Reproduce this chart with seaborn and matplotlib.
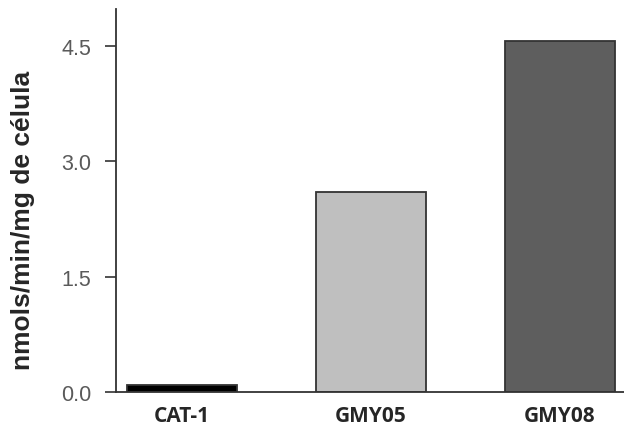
import pandas as pd
import matplotlib.pyplot as plt
import seaborn as sns

# dados
cepas = ['CAT-1', 'GMY05', 'GMY08']
valores = [0.09, 2.60, 4.56]
cores = ['#000000', '#bfbfbf', '#5e5e5e']
yticks = [0.0, 1.5, 3.0, 4.5]

df = pd.DataFrame({'cepa': cepas, 'valor': valores})

sns.set_style('white')
plt.rcParams['font.family'] = ['Liberation Sans', 'DejaVu Sans']

fig = plt.figure(figsize=(6.24, 4.31), dpi=100)
ax = fig.add_axes([0.186, 0.088, 0.814, 0.889])

sns.barplot(data=df, x='cepa', y='valor', hue='cepa', palette=dict(zip(cepas, cores)),
            legend=False, width=0.58, edgecolor='#333333', linewidth=1.3, ax=ax)

ax.set_ylim(0, 4.98)
ax.set_xlim(-0.35, 2.34)
ax.set_yticks(yticks)
ax.set_yticklabels([f'{v:.1f}' for v in yticks], color='#5a5a5a', fontsize=15.5)
ax.tick_params(axis='y', direction='out', length=8, width=1.2, color='#333333', left=True, pad=10)
ax.tick_params(axis='x', length=0, pad=9)
for lab in ax.get_xticklabels():
    lab.set_fontfamily(['Open Sans', 'DejaVu Sans'])
    lab.set_fontweight('bold')
    lab.set_fontsize(15)

ax.set_xlabel('')
ax.set_ylabel('nmols/min/mg de célula', fontsize=19, fontweight='bold')
ax.yaxis.set_label_coords(-0.16, 0.45)

sns.despine(ax=ax, top=True, right=True)
for s in ['left', 'bottom']:
    ax.spines[s].set_color('#333333')
    ax.spines[s].set_linewidth(1.3)

fig.savefig('out.png', dpi=100)
